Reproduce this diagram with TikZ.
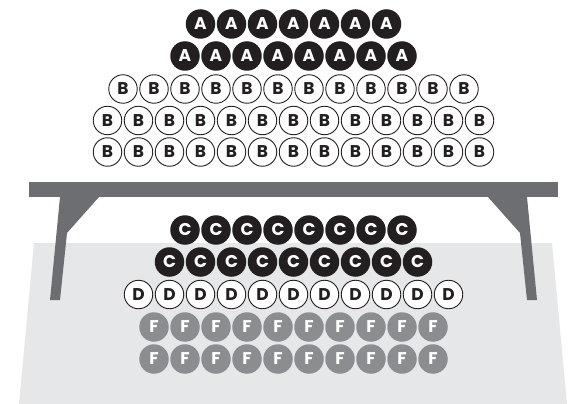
\documentclass[tikz,border=0pt]{standalone}
\usepackage{fontspec}
\setsansfont{Poppins}
\usetikzlibrary{positioning}
\definecolor{seatBlack}{HTML}{231F20}
\definecolor{seatGrey}{HTML}{8C8D90}
\definecolor{tableGrey}{HTML}{6D6E71}
\definecolor{floorGrey}{HTML}{E6E7E8}

\begin{document}
\begin{tikzpicture}[x=1pt, y=-1pt,
    seat/.style={circle, minimum size=29.5pt, inner sep=0pt,
                 font=\sffamily\bfseries\fontsize{17}{17}\selectfont},
    darkseat/.style={seat, fill=seatBlack, text=white},
    openseat/.style={seat, minimum size=28.5pt, draw=seatBlack, line width=0.9pt,
                     fill=white, text=seatBlack},
    greyseat/.style={seat, fill=seatGrey, text=white},
  ]
    \useasboundingbox (0,0) rectangle (579,404);

    % floor area
    \fill[floorGrey] (34,243) -- (552,243) -- (567,404) -- (19,404) -- cycle;

    % table top and legs
    \fill[tableGrey] (29,182) rectangle (558,197);
    \fill[tableGrey] (60,197) -- (99,197) -- (67,233) -- (60,300) -- (50,300) -- cycle;
    \fill[tableGrey] (527,197) -- (488,197) -- (520,233) -- (527,300) -- (537,300) -- cycle;

    % seat rows: count/y/style/letter/row
    \foreach \n/\y/\kind/\lab/\row in {7/24/darkseat/A/1, 8/56/darkseat/A/2,
        12/89/openseat/B/3, 13/120.5/openseat/B/4, 13/152/openseat/B/5,
        8/230/darkseat/C/6, 9/262/darkseat/C/7, 11/294.5/openseat/D/8,
        10/327/greyseat/F/9, 10/359/greyseat/F/10}
      \foreach \i in {1,...,\n}
        \node[\kind] (s\row-\i) at ({293.5+(\i-(\n+1)/2)*31}, \y) {\lab};
  \end{tikzpicture}
\end{document}
